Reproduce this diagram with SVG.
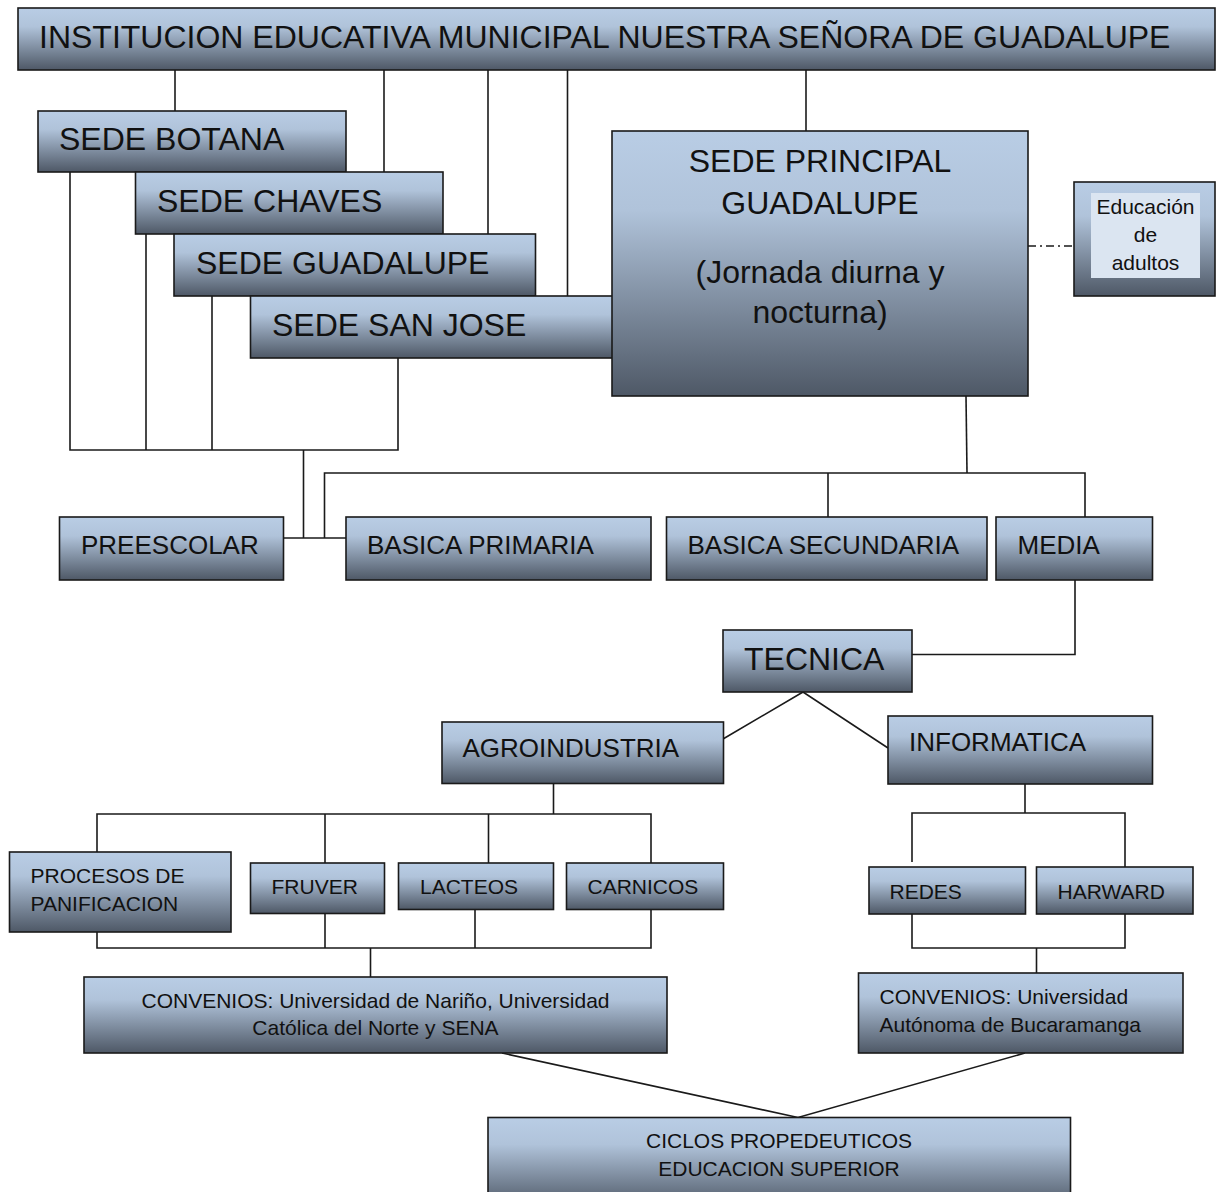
<svg xmlns="http://www.w3.org/2000/svg" width="1219" height="1192" viewBox="0 0 1219 1192">
  <defs>
    <linearGradient id="g" x1="0" y1="0" x2="0" y2="1">
      <stop offset="0" stop-color="#b9cde5"/>
      <stop offset="0.3" stop-color="#b0c3da"/>
      <stop offset="1" stop-color="#4e5866"/>
    </linearGradient>
    <style>
      .box { fill: url(#g); stroke: #1a1a1a; stroke-width: 1.6; }
      .inner { fill: #dbe5f1; stroke: none; }
      .ln { fill: none; stroke: #1a1a1a; stroke-width: 1.6; }
      .dd { fill: none; stroke: #1a1a1a; stroke-width: 1.6; stroke-dasharray: 8 4 2 4; }
      text { font-family: "Liberation Sans", Arial, sans-serif; fill: #111; }
      .xl { font-size: 32px; }
      .l { font-size: 26px; }
      .m { font-size: 21px; }
      .c { text-anchor: middle; }
    </style>
  </defs>
  <rect width="1219" height="1192" fill="#ffffff"/>

  <g id="connectors">
    <!-- title to sedes -->
    <line class="ln" x1="175" y1="70" x2="175" y2="111"/>
    <line class="ln" x1="384" y1="70" x2="384" y2="172"/>
    <line class="ln" x1="488" y1="70" x2="488" y2="234"/>
    <line class="ln" x1="567.5" y1="70" x2="567.5" y2="296"/>
    <line class="ln" x1="806" y1="70" x2="806" y2="131"/>
    <!-- dash-dot to adultos -->
    <line class="dd" x1="1028" y1="246" x2="1074" y2="246"/>
    <!-- sedes to preescolar / primaria -->
    <polyline class="ln" points="70,172 70,450 398,450 398,358"/>
    <line class="ln" x1="146" y1="234" x2="146" y2="450"/>
    <line class="ln" x1="212" y1="296" x2="212" y2="450"/>
    <line class="ln" x1="303.5" y1="450" x2="303.5" y2="538"/>
    <line class="ln" x1="283" y1="538" x2="346" y2="538"/>
    <!-- principal to levels -->
    <polyline class="ln" points="966,396 967,473"/>
    <polyline class="ln" points="324.5,538 324.5,473 1085,473 1085,517"/>
    <line class="ln" x1="828" y1="473" x2="828" y2="517"/>
    <!-- media to tecnica -->
    <polyline class="ln" points="1075,580 1075,654.5 912,654.5"/>
    <!-- tecnica to branches -->
    <polyline class="ln" points="723,739 803,692 888,748"/>
    <!-- agroindustria tree -->
    <line class="ln" x1="553.5" y1="783" x2="553.5" y2="814"/>
    <polyline class="ln" points="97,852 97,814 651,814 651,863"/>
    <line class="ln" x1="325" y1="814" x2="325" y2="863"/>
    <line class="ln" x1="488.5" y1="814" x2="488.5" y2="863"/>
    <polyline class="ln" points="97,932 97,948 651,948 651,909"/>
    <line class="ln" x1="325" y1="913" x2="325" y2="948"/>
    <line class="ln" x1="475" y1="909" x2="475" y2="948"/>
    <line class="ln" x1="370.5" y1="948" x2="370.5" y2="977"/>
    <!-- informatica tree -->
    <line class="ln" x1="1025" y1="784" x2="1025" y2="813"/>
    <polyline class="ln" points="912,862 912,813 1125,813 1125,867"/>
    <polyline class="ln" points="912,914 912,948 1125,948 1125,914"/>
    <line class="ln" x1="1036.5" y1="948" x2="1036.5" y2="973"/>
    <!-- convenios to ciclos -->
    <polyline class="ln" points="502,1053 798,1117.5 1025,1053"/>
  </g>

  <g id="title">
    <rect class="box" x="18" y="8" width="1197" height="62"/>
    <text class="xl" x="39" y="48">INSTITUCION EDUCATIVA MUNICIPAL NUESTRA SEÑORA DE GUADALUPE</text>
  </g>

  <g id="sede-botana">
    <rect class="box" x="38" y="111" width="308" height="61"/>
    <text class="xl" x="59" y="150">SEDE BOTANA</text>
  </g>
  <g id="sede-chaves">
    <rect class="box" x="135.5" y="172" width="307.5" height="62"/>
    <text class="xl" x="157" y="212">SEDE CHAVES</text>
  </g>
  <g id="sede-guadalupe">
    <rect class="box" x="174" y="234" width="361.5" height="62"/>
    <text class="xl" x="196" y="274">SEDE GUADALUPE</text>
  </g>
  <g id="sede-san-jose">
    <rect class="box" x="250.5" y="296" width="370" height="62"/>
    <text class="xl" x="272" y="336">SEDE SAN JOSE</text>
  </g>
  <g id="sede-principal">
    <rect class="box" x="612" y="131" width="416" height="265"/>
    <text class="xl c" x="820" y="172">SEDE PRINCIPAL</text>
    <text class="xl c" x="820" y="214">GUADALUPE</text>
    <text class="xl c" x="820" y="283">(Jornada diurna y</text>
    <text class="xl c" x="820" y="323">nocturna)</text>
  </g>
  <g id="educacion-adultos">
    <rect class="box" x="1074" y="182" width="141" height="114"/>
    <rect class="inner" x="1091" y="193" width="109" height="85"/>
    <text class="m c" x="1145.5" y="214">Educación</text>
    <text class="m c" x="1145.5" y="242">de</text>
    <text class="m c" x="1145.5" y="270">adultos</text>
  </g>

  <g id="preescolar">
    <rect class="box" x="59.5" y="517" width="224" height="63"/>
    <text class="l" x="81" y="553.5">PREESCOLAR</text>
  </g>
  <g id="basica-primaria">
    <rect class="box" x="346" y="517" width="305" height="63"/>
    <text class="l" x="367" y="553.5">BASICA PRIMARIA</text>
  </g>
  <g id="basica-secundaria">
    <rect class="box" x="666.5" y="517" width="320.5" height="63"/>
    <text class="l" x="687.5" y="553.5">BASICA SECUNDARIA</text>
  </g>
  <g id="media">
    <rect class="box" x="996" y="517" width="156.5" height="63"/>
    <text class="l" x="1017.5" y="553.5">MEDIA</text>
  </g>

  <g id="tecnica">
    <rect class="box" x="723" y="630" width="189" height="62"/>
    <text class="xl" x="744" y="670">TECNICA</text>
  </g>
  <g id="agroindustria">
    <rect class="box" x="442" y="722" width="281.5" height="61.5"/>
    <text class="l" x="462.5" y="756.5">AGROINDUSTRIA</text>
  </g>
  <g id="informatica">
    <rect class="box" x="888" y="716" width="264.5" height="68"/>
    <text class="l" x="909" y="751">INFORMATICA</text>
  </g>

  <g id="procesos-panificacion">
    <rect class="box" x="9.5" y="852" width="221.5" height="80"/>
    <text class="m" x="30.5" y="883">PROCESOS DE</text>
    <text class="m" x="30.5" y="911">PANIFICACION</text>
  </g>
  <g id="fruver">
    <rect class="box" x="250.5" y="863" width="134" height="50.5"/>
    <text class="m" x="271.5" y="894">FRUVER</text>
  </g>
  <g id="lacteos">
    <rect class="box" x="398.5" y="863" width="155" height="46.5"/>
    <text class="m" x="420" y="894">LACTEOS</text>
  </g>
  <g id="carnicos">
    <rect class="box" x="566.5" y="863" width="157" height="46.5"/>
    <text class="m" x="587.5" y="894">CARNICOS</text>
  </g>

  <g id="redes">
    <rect class="box" x="869" y="867" width="156.5" height="47"/>
    <text class="m" x="889.5" y="898.5">REDES</text>
  </g>
  <g id="harward">
    <rect class="box" x="1036.5" y="867" width="156.5" height="47"/>
    <text class="m" x="1057.5" y="898.5">HARWARD</text>
  </g>

  <g id="convenios-narino">
    <rect class="box" x="84" y="977" width="583" height="76"/>
    <text class="m c" x="375.5" y="1008">CONVENIOS: Universidad de Nariño, Universidad</text>
    <text class="m c" x="375.5" y="1035">Católica del Norte y SENA</text>
  </g>
  <g id="convenios-bucaramanga">
    <rect class="box" x="858.5" y="973" width="324.5" height="80"/>
    <text class="m" x="879.5" y="1004">CONVENIOS: Universidad</text>
    <text class="m" x="879.5" y="1032">Autónoma de Bucaramanga</text>
  </g>

  <g id="ciclos-propedeuticos">
    <rect class="box" x="488" y="1117.5" width="582.5" height="90"/>
    <text class="m c" x="779" y="1148">CICLOS PROPEDEUTICOS</text>
    <text class="m c" x="779" y="1176">EDUCACION SUPERIOR</text>
  </g>
</svg>
